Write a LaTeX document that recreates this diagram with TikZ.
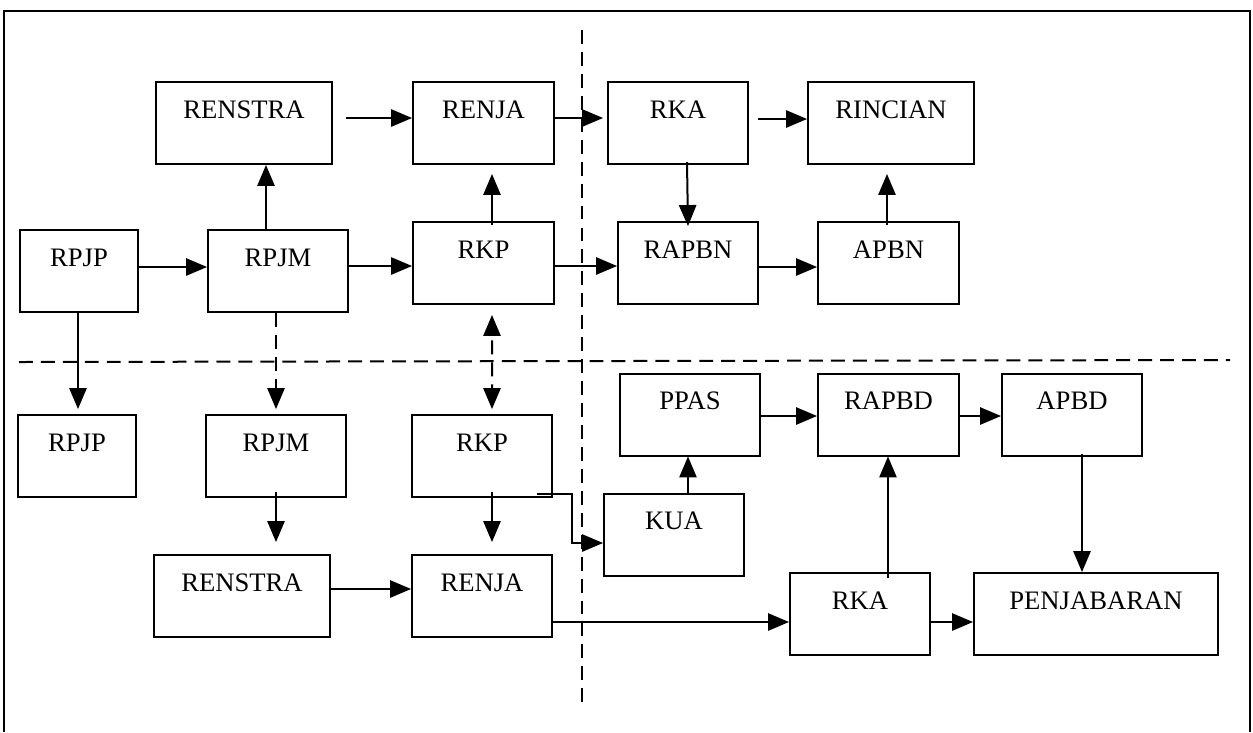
\documentclass[tikz,border=0pt]{standalone}
\usepackage{fontspec}
\setmainfont{Liberation Serif}
\usetikzlibrary{arrows,calc}

\tikzset{
	kotak/.style={draw,line width=0.72pt,inner sep=0pt,minimum height=29.52pt,text height=12.96pt,text depth=16.56pt},
	putus/.style={line width=0.72pt,dash pattern=on 5pt off 2.9pt},
}

\begin{document}
\begin{tikzpicture}[line join=miter,>=triangle 45,x=0.36pt,y=-0.36pt,line width=0.72pt,font=\fontsize{9.6}{11}\selectfont]
		\useasboundingbox (0,0) rectangle (1253,732);
		\draw (4,732)-- (4,11)-- (1250,11)-- (1250,732);
		\draw [putus] (19,362)-- (1230,360);
		\draw [putus] (582,30)-- (582,708);
		% atas
		\node[kotak,minimum width=63.36pt] (renstraA) at (244,123) {RENSTRA};
		\node[kotak,minimum width=50.76pt] (renjaA) at (483.5,123) {RENJA};
		\node[kotak,minimum width=50.4pt] (rkaA) at (678,123) {RKA};
		\node[kotak,minimum width=59.76pt] (rincian) at (891,123) {RINCIAN};
		\node[kotak,minimum width=42.48pt] (rpjpA) at (79,271) {RPJP};
		\node[kotak,minimum width=50.4pt] (rpjmA) at (278,271) {RPJM};
		\node[kotak,minimum width=50.76pt] (rkpA) at (483.5,263) {RKP};
		\node[kotak,minimum width=50.4pt] (rapbn) at (688,263) {RAPBN};
		\node[kotak,minimum width=50.76pt] (apbn) at (888.5,263) {APBN};
		% bawah
		\node[kotak,minimum width=42.48pt] (rpjpB) at (77,456) {RPJP};
		\node[kotak,minimum width=50.4pt] (rpjmB) at (276,456) {RPJM};
		\node[kotak,minimum width=50.4pt] (rkpB) at (482,456) {RKP};
		\node[kotak,minimum width=50.4pt] (ppas) at (690,414.5) {PPAS};
		\node[kotak,minimum width=50.76pt] (rapbd) at (888.5,414.5) {RAPBD};
		\node[kotak,minimum width=50.4pt] (apbd) at (1072,414.5) {APBD};
		\node[kotak,minimum width=50.4pt] (kua) at (674,534.5) {KUA};
		\node[kotak,minimum width=63.36pt] (renstraB) at (242,596) {RENSTRA};
		\node[kotak,minimum width=50.4pt] (renjaB) at (482,596) {RENJA};
		\node[kotak,minimum width=50.4pt] (rkaB) at (860,614) {RKA};
		\node[kotak,minimum width=87.84pt] (penjabaran) at (1096,614) {PENJABARAN};
		% panah atas
		\draw [->] ($(renstraA.east)+(13,-5)$)-- ($(renjaA.west)+(0,-5)$);
		\draw [->] ($(renjaA.east)+(0,-5)$)-- ($(rkaA.west)+(-4,-5)$);
		\draw [->] ($(rkaA.east)+(9,-4)$)-- ($(rincian.west)+(0,-4)$);
		\draw [->] ($(rpjpA.east)+(0,-4)$)-- ($(rpjmA.west)+(0,-4)$);
		\draw [->] ($(rpjmA.east)+(0,-5)$)-- ($(rkpA.west)+(0,3)$);
		\draw [->] ($(rkpA.east)+(0,3)$)-- ($(rapbn.west)+(0,3)$);
		\draw [->] ($(rapbn.east)+(0,4)$)-- ($(apbn.west)+(0,4)$);
		\draw [->] ($(rpjmA.north)+(-12,0)$)-- ($(renstraA.south)+(22,0)$);
		\draw [->] ($(rkpA.north)+(8.5,4)$)-- ($(renjaA.south)+(8.5,9)$);
		\draw [->] ($(rkaA.south)+(9,-3)$)-- ($(rapbn.north)+(0,5)$);
		\draw [->] ($(apbn.north)+(-1.5,4)$)-- ($(rincian.south)+(-4,9)$);
		% panah tengah
		\draw [->] ($(rpjpA.south)+(-1,0)$)-- ($(rpjpB.north)+(1,-5)$);
		\draw [->,putus] ($(rpjmA.south)+(-2,0)$)-- ($(rpjmB.north)+(0,-5)$);
		\draw [<->,putus] ($(rkpA.south)+(8.5,10)$)-- ($(rkpB.north)+(10,-5)$);
		% panah bawah
		\draw [->] ($(rpjmB.south)+(0,-6)$)-- ($(renstraB.north)+(34,-12)$);
		\draw [->] ($(rkpB.south)+(10,-6)$)-- ($(renjaB.north)+(10,-12)$);
		\draw [->] ($(renstraB.east)+(0,-7)$)-- ($(renjaB.west)+(0,-7)$);
		\draw [->] ($(rkpB.south east)+(-16,-4)$)-- ++(35,0) |- ($(kua.west)+(0,8.5)$);
		\draw [->] ($(kua.north)+(14,0)$)-- ($(ppas.south)+(-2,0)$);
		\draw [->] ($(ppas.east)+(0,1.5)$)-- ($(rapbd.west)+(0,1.5)$);
		\draw [->] ($(rapbd.east)+(0,1.5)$)-- ($(apbd.west)+(0,1.5)$);
		\draw [->] ($(rkaB.north)+(28,6)$)-- ($(rapbd.south)+(-0.5,0)$);
		\draw [->] ($(apbd.south)+(10,-3)$)-- ($(penjabaran.north)+(-14,0)$);
		\draw [->] ($(renjaB.east)+(0,26)$)-- ($(rkaB.west)+(0,8)$);
		\draw [->] ($(rkaB.east)+(0,8)$)-- ($(penjabaran.west)+(0,8)$);
	\end{tikzpicture}
\end{document}
